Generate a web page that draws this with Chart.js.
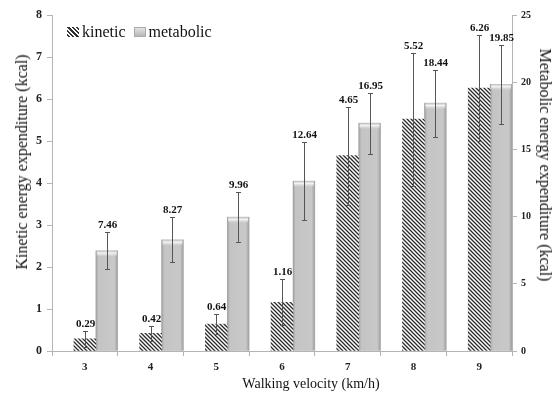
<!DOCTYPE html>
<html>
<head>
<meta charset="utf-8">
<script src="https://cdn.jsdelivr.net/npm/chart.js"></script>
<style>
  html, body { margin: 0; padding: 0; background: #fff; }
  #wrap { position: relative; width: 557px; height: 393px; }
  #legend { position: absolute; left: 67px; top: 23px; font: 16px "Liberation Serif", serif; color: #111;
            display: flex; align-items: center; line-height: 18px; }
  .sw { display: inline-block; width: 12px; height: 10px; margin-right: 3px; }
  .sw.kin { background: repeating-linear-gradient(45deg, #fff 0 1px, #333 1px 2.6px, #fff 2.6px 3px); }
  .sw.met { background: linear-gradient(#e4e4e4, #b8b8b8); margin-left: 8px; border: 1px solid #aaa; box-sizing: border-box; }
  .ttl { position: absolute; font-family: "Liberation Serif", serif; color: #111; white-space: nowrap;
         transform: translate(-50%, -50%); line-height: 1; }
  #ttlLeft { left: 22px; top: 162px; font-size: 16px; transform: translate(-50%, -50%) rotate(-90deg); }
  #ttlRight { left: 545px; top: 165px; font-size: 16px; transform: translate(-50%, -50%) rotate(90deg); }
  #ttlX { left: 311px; top: 384px; font-size: 14px; }
</style>
</head>
<body>
<div id="wrap">
  <canvas id="chart" width="557" height="393"></canvas>
  <div id="legend"><span class="sw kin"></span>kinetic<span class="sw met"></span>metabolic</div>
  <div class="ttl" id="ttlLeft">Kinetic energy expenditure (kcal)</div>
  <div class="ttl" id="ttlRight">Metabolic energy expenditure (kcal)</div>
  <div class="ttl" id="ttlX">Walking velocity (km/h)</div>
</div>
<script>
const velocities = ['3', '4', '5', '6', '7', '8', '9'];
const kinetic = [0.29, 0.42, 0.64, 1.16, 4.65, 5.52, 6.26];
const kineticErr = [0.19, 0.18, 0.23, 0.55, 1.17, 1.58, 1.26];
const metabolic = [7.46, 8.27, 9.96, 12.64, 16.95, 18.44, 19.85];
const metabolicErr = [1.38, 1.68, 1.84, 2.91, 2.27, 2.5, 2.94];
const spacer = [null, null, null, null, null, null, null];

const serif = '"Liberation Serif", serif';

function hatch(ctx) {
  const c = document.createElement('canvas');
  c.width = c.height = 4;
  const g = c.getContext('2d');
  g.fillStyle = '#fff';
  g.fillRect(0, 0, 4, 4);
  g.strokeStyle = '#2a2a2a';
  g.lineWidth = 1.3;
  g.beginPath();
  g.moveTo(-1, -1); g.lineTo(5, 5);
  g.moveTo(-1, 3); g.lineTo(1, 5);
  g.moveTo(3, -1); g.lineTo(5, 1);
  g.stroke();
  return ctx.createPattern(c, 'repeat');
}

// shaded look for the metabolic bars
const cylinder = {
  id: 'cylinder',
  afterDatasetDraw(chart, args) {
    if (args.index !== 2) return;
    const ctx = chart.ctx;
    args.meta.data.forEach(bar => {
      const l = bar.x - bar.width / 2, w = bar.width, t = bar.y, h = bar.base - bar.y;
      const g = ctx.createLinearGradient(l, 0, l + w, 0);
      g.addColorStop(0, '#9c9c9c');
      g.addColorStop(0.12, '#c4c4c4');
      g.addColorStop(0.85, '#c8c8c8');
      g.addColorStop(1, '#9e9e9e');
      ctx.save();
      ctx.fillStyle = g;
      ctx.fillRect(l, t, w, h);
      const cap = ctx.createLinearGradient(0, t, 0, t + 6);
      cap.addColorStop(0, '#c0c0c0');
      cap.addColorStop(0.4, '#f4f4f4');
      cap.addColorStop(1, 'rgba(220,220,220,0)');
      ctx.fillStyle = cap;
      ctx.fillRect(l + 1, t, w - 2, 6);
      ctx.restore();
    });
  }
};

const errorBars = {
  id: 'errorBars',
  afterDatasetsDraw(chart) {
    const ctx = chart.ctx;
    [[1, kinetic, kineticErr, 'y'], [2, metabolic, metabolicErr, 'y1']].forEach(([di, vals, errs, ax]) => {
      const meta = chart.getDatasetMeta(di), sc = chart.scales[ax];
      meta.data.forEach((bar, i) => {
        const x = Math.round(bar.x) + 0.5;
        const top = Math.round(sc.getPixelForValue(vals[i] + errs[i])) + 0.5;
        const bot = Math.round(sc.getPixelForValue(vals[i] - errs[i])) + 0.5;
        ctx.save();
        ctx.strokeStyle = '#555';
        ctx.lineWidth = 1;
        ctx.beginPath();
        ctx.moveTo(x, top); ctx.lineTo(x, bot);
        ctx.moveTo(x - 2.5, top); ctx.lineTo(x + 2.5, top);
        ctx.moveTo(x - 2.5, bot); ctx.lineTo(x + 2.5, bot);
        ctx.stroke();
        ctx.fillStyle = '#111';
        ctx.font = 'bold 11px ' + serif;
        ctx.textAlign = 'center';
        ctx.textBaseline = 'bottom';
        ctx.fillText(vals[i].toFixed(2), x, top - 2);
        ctx.restore();
      });
    });
  }
};

const ctx = document.getElementById('chart').getContext('2d');
const axisGrey = '#b4b4b4';

new Chart(ctx, {
  type: 'bar',
  data: {
    labels: velocities,
    datasets: [
      { label: '', data: spacer, yAxisID: 'y' },
      { label: 'kinetic', data: kinetic, yAxisID: 'y', backgroundColor: hatch(ctx), borderWidth: 0 },
      { label: 'metabolic', data: metabolic, yAxisID: 'y1', backgroundColor: '#c6c6c6', borderWidth: 0 }
    ]
  },
  options: {
    responsive: false,
    animation: false,
    categoryPercentage: 1.0,
    barPercentage: 1.0,
    layout: { padding: { top: 15, left: 0, right: 0, bottom: 0 } },
    plugins: { legend: { display: false }, tooltip: { enabled: false } },
    scales: {
      x: {
        grid: { drawOnChartArea: false, tickLength: 5, color: axisGrey },
        border: { color: axisGrey },
        ticks: { color: '#222', font: { family: serif, size: 11, weight: 'bold' }, padding: 5 },
        afterFit: s => { s.height = 42; }
      },
      y: {
        position: 'left', min: 0, max: 8,
        grid: { drawOnChartArea: false, tickLength: 5, color: axisGrey },
        border: { color: axisGrey },
        ticks: { stepSize: 1, color: '#222', font: { family: serif, size: 12, weight: 'bold' }, padding: 5 },
        afterFit: s => { s.width = 52; }
      },
      y1: {
        position: 'right', min: 0, max: 25,
        grid: { drawOnChartArea: false, tickLength: 5, color: axisGrey },
        border: { color: axisGrey },
        ticks: { stepSize: 5, color: '#222', font: { family: serif, size: 10, weight: 'bold' }, padding: 4 },
        afterFit: s => { s.width = 45; }
      }
    }
  },
  plugins: [cylinder, errorBars]
});
</script>
</body>
</html>
